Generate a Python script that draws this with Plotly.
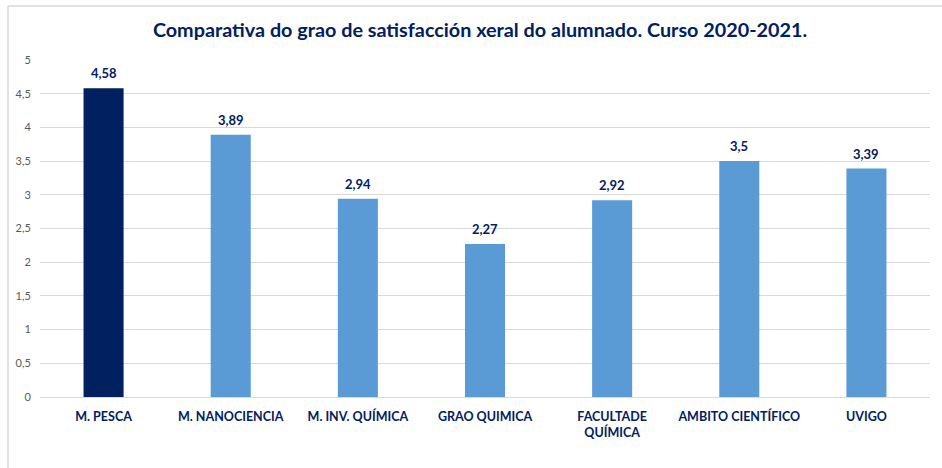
import plotly.graph_objects as go

categories = ["M. PESCA", "M. NANOCIENCIA", "M. INV. QUÍMICA", "GRAO QUIMICA",
              "FACULTADE<br>QUÍMICA", "AMBITO CIENTÍFICO", "UVIGO"]
values = [4.58, 3.89, 2.94, 2.27, 2.92, 3.5, 3.39]
value_labels = ["4,58", "3,89", "2,94", "2,27", "2,92", "3,5", "3,39"]
bar_colors = ["#002060", "#5B9BD5", "#5B9BD5", "#5B9BD5", "#5B9BD5", "#5B9BD5", "#5B9BD5"]
y_ticks = [0, 0.5, 1, 1.5, 2, 2.5, 3, 3.5, 4, 4.5, 5]
y_tick_labels = ["0", "0,5", "1", "1,5", "2", "2,5", "3", "3,5", "4", "4,5", "5"]

NAVY = "#002060"
FONT = "Lato"

fig = go.Figure()
fig.add_trace(go.Bar(x=categories, y=values, marker=dict(color=bar_colors, line=dict(width=0)),
                     hoverinfo="skip"))

for c, v, t in zip(categories, values, value_labels):
    fig.add_annotation(x=c, y=v, text=f"<b>{t}</b>", showarrow=False, yanchor="bottom",
                       yshift=5, font=dict(family=FONT, size=13, color=NAVY))

W, H = 942, 468
ml, mr, mt, mb = 40, 12, 60, 71
pw, ph = W - ml - mr, H - mt - mb

def px(x):
    return (x - ml) / pw

def py(y):
    return (H - mb - y) / ph

# chart frame (top and left edges visible)
fig.add_shape(type="line", xref="paper", yref="paper", x0=px(8), x1=px(W + 5), y0=py(6), y1=py(6),
              line=dict(color="#D9D9D9", width=1.5))
fig.add_shape(type="line", xref="paper", yref="paper", x0=px(8), x1=px(8), y0=py(6), y1=py(H + 5),
              line=dict(color="#D9D9D9", width=1.5))

fig.update_layout(
    width=W, height=H,
    margin=dict(l=ml, r=mr, t=mt, b=mb),
    paper_bgcolor="white", plot_bgcolor="white",
    separators=",.",
    bargap=0.685,
    showlegend=False,
    title=dict(text="<b>Comparativa do grao de satisfacción xeral do alumnado. Curso 2020-2021.</b>",
               x=480 / W, xanchor="center", y=1 - 30 / H, yanchor="middle",
               font=dict(family=FONT, size=19.8, color=NAVY)),
    xaxis=dict(tickfont=dict(family=FONT, size=12.5, color=NAVY), showgrid=False,
               showline=True, linecolor="#D9D9D9", linewidth=1,
               ticks="outside", ticklen=8, tickcolor="rgba(0,0,0,0)",
               tickprefix="<b>", ticksuffix="</b>"),
    yaxis=dict(range=[0, 5], tickvals=y_ticks, ticktext=y_tick_labels,
               tickfont=dict(family=FONT, size=11, color="#595959"),
               showgrid=True, gridcolor="#D9D9D9", gridwidth=1, zeroline=False,
               ticks="outside", ticklen=6, tickcolor="rgba(0,0,0,0)"),
    font=dict(family=FONT),
)

fig.write_html("out.html", config={"displayModeBar": False},
               post_script="document.body.style.margin='0';document.body.style.padding='0';document.body.style.overflow='hidden';")
